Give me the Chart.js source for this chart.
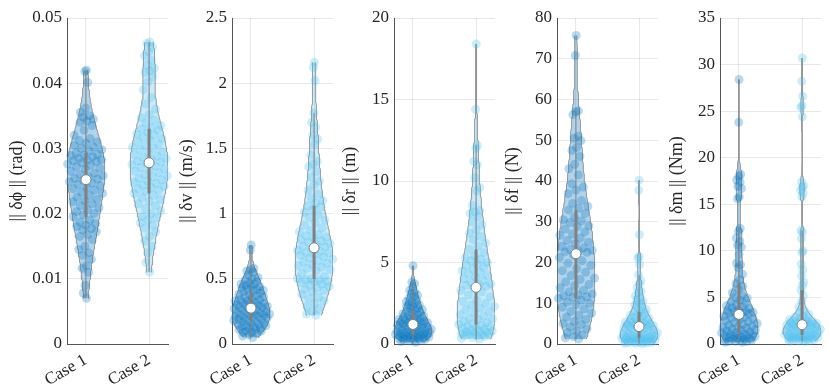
<!DOCTYPE html>
<html>
<head>
<meta charset="utf-8">
<script src="https://cdn.jsdelivr.net/npm/chart.js@4.4.1/dist/chart.umd.min.js"></script>
<style>
  body { margin: 0; background: #fff; }
  #wrap { position: relative; width: 830px; height: 387px; overflow: hidden; background: #fff; }
  #wrap canvas { position: absolute; top: 0; }
</style>
</head>
<body>
<div id="wrap"></div>
<script>
const caseLabels = ['Case 1', 'Case 2'];
const axisTitles = ['|| δϕ || (rad)', '|| δv || (m/s)', '|| δr || (m)', '|| δf || (N)', '|| δm || (Nm)'];
const yMax = [0.05, 2.5, 20, 80, 35];
const yStep = [0.01, 0.5, 5, 10, 5];

// attitude error (rad)
const phiCase1 = [0.0420,0.0418,0.0401,0.0362,0.0355,0.0350,0.0348,0.0345,0.0342,0.0340,0.0335,0.0328,0.0320,0.0315,0.0312,0.0310,0.0308,0.0305,0.0302,0.0300,0.0298,0.0296,
  0.0293,0.0291,0.0290,0.0289,0.0287,0.0285,0.0283,0.0282,0.0281,0.0280,0.0278,0.0276,0.0274,0.0272,0.0270,0.0268,0.0265,0.0262,0.0260,0.0258,0.0256,0.0254,0.0253,
  0.0251,0.0249,0.0247,0.0245,0.0243,0.0240,0.0238,0.0236,0.0233,0.0231,0.0228,0.0225,0.0222,0.0220,0.0218,0.0215,0.0212,0.0209,0.0206,0.0203,0.0200,0.0198,
  0.0195,0.0190,0.0187,0.0185,0.0182,0.0180,0.0177,0.0175,0.0172,0.0168,0.0165,0.0160,0.0150,0.0145,0.0140,0.0136,0.0130,0.0120,0.0116,0.0110,0.0090,0.0078,0.0070];
const phiCase2 = [0.0463,0.0461,0.0455,0.0448,0.0442,0.0435,0.0428,0.0423,0.0419,0.0416,0.0410,0.0402,0.0390,0.0378,0.0368,0.0360,0.0352,0.0347,0.0343,0.0339,0.0335,0.0332,
  0.0330,0.0328,0.0325,0.0322,0.0320,0.0317,0.0315,0.0312,0.0310,0.0307,0.0304,0.0302,0.0300,0.0298,0.0295,0.0292,0.0290,0.0288,0.0286,0.0284,0.0282,0.0280,0.0279,
  0.0277,0.0275,0.0273,0.0271,0.0269,0.0267,0.0265,0.0263,0.0260,0.0258,0.0256,0.0254,0.0252,0.0250,0.0248,0.0246,0.0244,0.0242,0.0240,0.0238,0.0236,0.0234,
  0.0231,0.0228,0.0225,0.0222,0.0219,0.0215,0.0212,0.0208,0.0204,0.0200,0.0196,0.0193,0.0190,0.0186,0.0182,0.0178,0.0172,0.0165,0.0158,0.0150,0.0140,0.0125,0.0110];

// velocity error (m/s)
const velCase1 = [0.76,0.72,0.58,0.57,0.56,0.55,0.53,0.51,0.50,0.49,0.48,0.47,0.46,0.46,0.45,0.44,0.44,0.43,0.42,0.42,0.41,0.41,
  0.40,0.39,0.38,0.38,0.37,0.36,0.36,0.35,0.34,0.34,0.33,0.33,0.32,0.32,0.31,0.31,0.30,0.30,0.30,0.29,0.29,0.28,0.28,
  0.27,0.27,0.26,0.26,0.25,0.25,0.24,0.24,0.24,0.23,0.23,0.22,0.22,0.22,0.21,0.21,0.20,0.20,0.20,0.19,0.19,0.18,
  0.18,0.17,0.17,0.16,0.16,0.15,0.15,0.14,0.14,0.13,0.13,0.12,0.12,0.11,0.11,0.10,0.10,0.09,0.09,0.08,0.07,0.06,0.05];
const velCase2 = [2.16,2.12,2.02,1.77,1.70,1.66,1.60,1.57,1.53,1.45,1.40,1.38,1.36,1.32,1.28,1.25,1.22,1.18,1.15,1.12,1.10,1.08,
  1.06,1.05,1.03,1.01,0.99,0.97,0.95,0.93,0.91,0.89,0.87,0.86,0.84,0.83,0.82,0.81,0.80,0.79,0.78,0.77,0.76,0.75,0.745,
  0.73,0.72,0.71,0.70,0.70,0.69,0.68,0.67,0.66,0.65,0.64,0.63,0.62,0.61,0.60,0.59,0.58,0.57,0.56,0.54,0.52,0.50,
  0.50,0.49,0.49,0.48,0.48,0.47,0.46,0.45,0.44,0.43,0.42,0.41,0.40,0.38,0.36,0.35,0.33,0.31,0.29,0.27,0.25,0.23,0.22];

// position error (m)
const posCase1 = [4.8,3.8,3.7,3.5,3.3,3.2,3.1,3.0,2.9,2.8,2.7,2.6,2.6,2.5,2.4,2.4,2.3,2.3,2.2,2.2,2.1,2.05,
  2.0,1.95,1.9,1.85,1.8,1.75,1.7,1.65,1.6,1.6,1.55,1.5,1.5,1.45,1.4,1.4,1.35,1.35,1.3,1.3,1.25,1.25,1.22,
  1.18,1.15,1.12,1.1,1.05,1.0,1.0,0.95,0.92,0.9,0.88,0.85,0.82,0.8,0.78,0.75,0.72,0.7,0.68,0.65,0.63,0.6,
  0.58,0.56,0.55,0.53,0.5,0.5,0.48,0.45,0.43,0.42,0.4,0.38,0.36,0.35,0.33,0.3,0.28,0.26,0.25,0.22,0.2,0.15,0.1];
const posCase2 = [18.4,14.4,12.2,12.0,11.2,11.0,10.2,9.6,9.4,8.5,8.2,8.1,8.0,7.8,7.5,7.3,7.0,6.8,6.6,6.4,6.2,6.0,
  5.8,5.6,5.4,5.3,5.2,5.1,5.0,4.9,4.8,4.7,4.6,4.5,4.4,4.3,4.2,4.1,4.0,3.9,3.8,3.7,3.65,3.6,3.55,
  3.4,3.3,3.2,3.0,2.9,2.7,2.6,2.5,2.4,2.3,2.2,2.1,2.0,1.9,1.8,1.7,1.6,1.55,1.5,1.4,1.3,1.25,
  1.2,1.15,1.1,1.05,1.0,0.95,0.9,0.85,0.8,0.8,0.75,0.7,0.7,0.65,0.6,0.6,0.55,0.5,0.5,0.45,0.4,0.35,0.3];

// force error (N)
const forceCase1 = [75.7,70.8,57.2,57.0,56.3,51.0,50.5,49.9,48.2,47.5,46.0,44.1,43.0,41.5,39.3,38.5,37.8,36.9,35.2,34.5,33.8,33.3,
  32.9,32.0,31.2,30.5,30.2,29.8,29.0,28.8,28.2,27.5,27.0,26.7,26.0,25.4,25.0,24.6,24.0,23.6,23.2,23.0,22.8,22.6,22.5,
  21.8,21.2,20.4,19.8,19.3,18.5,18.0,17.6,16.8,16.2,15.8,15.2,14.6,14.3,13.8,13.2,12.8,12.3,12.0,11.8,11.6,11.5,
  11.2,10.8,10.3,10.0,9.7,9.0,8.6,8.0,7.6,7.0,6.6,6.0,5.5,5.0,4.8,4.2,3.7,3.2,2.8,2.2,1.8,1.5,1.2];
const forceCase2 = [40.2,37.7,26.8,21.5,21.0,19.5,17.0,15.5,14.8,13.8,13.0,12.5,11.8,11.3,10.8,10.5,10.0,9.6,9.2,8.8,8.4,8.1,
  7.9,7.6,7.3,7.0,6.8,6.5,6.3,6.1,5.9,5.7,5.6,5.4,5.3,5.2,5.0,4.9,4.8,4.7,4.6,4.5,4.45,4.4,4.35,
  4.2,4.0,3.9,3.7,3.5,3.4,3.2,3.0,2.9,2.8,2.6,2.5,2.4,2.3,2.2,2.1,2.0,1.9,1.8,1.7,1.6,1.5,
  1.45,1.4,1.3,1.25,1.2,1.1,1.0,0.95,0.9,0.85,0.8,0.75,0.7,0.6,0.55,0.5,0.45,0.4,0.35,0.3,0.25,0.2,0.1];

// moment error (Nm)
const momentCase1 = [28.4,23.8,18.2,18.0,17.6,17.4,16.9,16.7,15.8,15.6,12.4,12.1,11.4,11.0,10.6,10.4,9.6,8.7,8.5,8.2,7.5,6.9,
  6.5,6.2,5.9,5.5,5.2,5.0,4.9,4.7,4.5,4.4,4.2,4.1,4.0,3.9,3.8,3.7,3.6,3.5,3.5,3.4,3.3,3.3,3.25,
  3.1,3.0,2.9,2.8,2.7,2.6,2.5,2.4,2.3,2.2,2.1,2.0,1.9,1.8,1.8,1.7,1.6,1.5,1.5,1.4,1.3,1.2,
  1.2,1.1,1.1,1.0,1.0,0.9,0.9,0.8,0.8,0.7,0.7,0.6,0.6,0.5,0.5,0.5,0.4,0.4,0.3,0.3,0.3,0.2,0.2];
const momentCase2 = [30.7,28.2,26.6,25.6,25.4,24.4,17.4,17.0,16.8,16.5,16.2,15.8,12.2,12.0,11.3,10.0,9.8,8.6,8.0,7.3,6.6,6.3,
  5.8,5.2,4.6,4.0,3.6,3.4,3.2,3.0,2.9,2.8,2.7,2.6,2.5,2.5,2.4,2.4,2.3,2.3,2.2,2.2,2.2,2.15,2.1,
  2.05,2.0,2.0,1.9,1.9,1.8,1.8,1.7,1.7,1.6,1.6,1.5,1.5,1.4,1.4,1.3,1.3,1.2,1.2,1.1,1.1,1.0,
  1.0,0.95,0.9,0.9,0.85,0.8,0.8,0.75,0.7,0.7,0.65,0.6,0.6,0.55,0.5,0.5,0.45,0.4,0.4,0.35,0.35,0.3,0.3];

const panelData = [
  [phiCase1, phiCase2],
  [velCase1, velCase2],
  [posCase1, posCase2],
  [forceCase1, forceCase2],
  [momentCase1, momentCase2]
];

// layout of the five panels (px)
const canvasLeft = [0, 174, 337, 500, 664];
const axisLeft = [67, 232, 394, 557, 720];
const titlePad = [6, 2, 2, 2, 2];
const plotWidth = 103;
const rightPad = 4;

const caseRgb = ['0,114,189', '77,190,238'];
const grey = '#808080';
const ink = '#262626';
const serif = "'Liberation Serif', 'DejaVu Serif', serif";

function quantile(sorted, p) {
  // MATLAB style: sample i at (i-0.5)/n
  const n = sorted.length;
  const pos = p * n - 0.5;
  if (pos <= 0) return sorted[0];
  if (pos >= n - 1) return sorted[n - 1];
  const lo = Math.floor(pos);
  return sorted[lo] + (pos - lo) * (sorted[lo + 1] - sorted[lo]);
}

// kernel density like ksdensity with default bandwidth, cut at data range
function violinProfile(values) {
  const s = values.slice().sort((a, b) => a - b);
  const n = s.length;
  const med = quantile(s, 0.5);
  const dev = s.map(v => Math.abs(v - med)).sort((a, b) => a - b);
  const sig = quantile(dev, 0.5) / 0.6745;
  const bw = sig * Math.pow(4 / (3 * n), 0.2);
  const lo = s[0], hi = s[n - 1];
  const steps = 120;
  const ys = [], ds = [];
  for (let i = 0; i <= steps; i++) {
    const y = lo + (hi - lo) * i / steps;
    let d = 0;
    for (const v of s) { const u = (y - v) / bw; d += Math.exp(-0.5 * u * u); }
    ys.push(y); ds.push(d);
  }
  const dMax = Math.max(...ds);
  const half = ds.map(d => 0.3 * d / dMax);
  const q1 = quantile(s, 0.25), q3 = quantile(s, 0.75);
  const iqr = q3 - q1;
  let lw = q1 - 1.5 * iqr; lw = Math.max(lw, Math.min(...s.filter(v => v > lw)));
  let hw = q3 + 1.5 * iqr; hw = Math.min(hw, Math.max(...s.filter(v => v < hw)));
  return { ys, half, lo, hi, med, q1, q3, lw, hw };
}

function halfAt(prof, y) {
  const { ys, half } = prof;
  if (y <= ys[0]) return half[0];
  for (let i = 1; i < ys.length; i++) {
    if (y <= ys[i]) {
      const t = (y - ys[i - 1]) / (ys[i] - ys[i - 1]);
      return half[i - 1] + t * (half[i] - half[i - 1]);
    }
  }
  return half[half.length - 1];
}

function tickText(v) {
  return String(+v.toFixed(4));
}

const wrap = document.getElementById('wrap');

panelData.forEach((cases, p) => {
  const yw = axisLeft[p] - canvasLeft[p];
  const cv = document.createElement('canvas');
  cv.width = yw + plotWidth + rightPad;
  cv.height = 387;
  cv.style.left = canvasLeft[p] + 'px';
  cv.style.width = cv.width + 'px';
  cv.style.height = '387px';
  wrap.appendChild(cv);

  const datasets = [];
  cases.forEach((vals, k) => {
    const pos = k + 1;
    const prof = violinProfile(vals);
    const fillCol = 'rgba(' + caseRgb[k] + ',0.3)';
    // violin halves, filled towards the centre line
    [1, -1].forEach(side => {
      datasets.push({
        type: 'line',
        indexAxis: 'y',
        data: prof.ys.map((y, i) => ({ x: pos + side * prof.half[i], y })),
        borderColor: grey,
        borderWidth: 0.8,
        backgroundColor: fillCol,
        fill: { value: pos },
        pointRadius: 0,
        tension: 0,
        order: 10
      });
    });
    // jittered samples inside the violin
    datasets.push({
      type: 'scatter',
      data: vals.map((v, i) => {
        const j = 2 * (((i + 1) * 0.6180339887) % 1) - 1;
        return { x: pos + j * halfAt(prof, v), y: v };
      }),
      backgroundColor: 'rgba(' + caseRgb[k] + ',0.28)',
      borderWidth: 0,
      pointRadius: 4.5,
      clip: false,
      order: 5
    });
    // whisker
    datasets.push({
      type: 'line',
      data: [{ x: pos, y: prof.lw }, { x: pos, y: prof.hw }],
      borderColor: grey, borderWidth: 1, pointRadius: 0, fill: false, order: 3
    });
    // box
    datasets.push({
      type: 'line',
      data: [{ x: pos, y: prof.q1 }, { x: pos, y: prof.q3 }],
      borderColor: grey, borderWidth: 3, pointRadius: 0, fill: false, order: 2
    });
    // median
    datasets.push({
      type: 'scatter',
      data: [{ x: pos, y: prof.med }],
      backgroundColor: '#ffffff', borderColor: grey, borderWidth: 1, pointRadius: 5,
      clip: false, order: 1
    });
  });

  new Chart(cv, {
    type: 'scatter',
    data: { datasets },
    options: {
      responsive: false,
      animation: false,
      events: [],
      layout: { padding: { top: 18, right: rightPad, left: 0, bottom: 0 } },
      plugins: { legend: { display: false }, tooltip: { enabled: false } },
      scales: {
        x: {
          type: 'linear', min: 0.7, max: 2.3,
          afterBuildTicks: s => { s.ticks = [{ value: 1 }, { value: 2 }]; },
          afterFit: s => { s.height = 43; },
          grid: { color: 'rgba(0,0,0,0.09)', drawTicks: false },
          border: { color: '#555', width: 1 },
          ticks: {
            autoSkip: false, minRotation: 30, maxRotation: 30, padding: 6,
            color: ink, font: { family: serif, size: 17 },
            callback: v => caseLabels[Math.round(v) - 1]
          }
        },
        y: {
          type: 'linear', min: 0, max: yMax[p],
          afterFit: s => { s.width = yw; },
          grid: { color: 'rgba(0,0,0,0.09)', drawTicks: false },
          border: { color: '#555', width: 1 },
          ticks: {
            stepSize: yStep[p], padding: 5, color: ink,
            font: { family: serif, size: 17 },
            callback: v => tickText(v)
          },
          title: {
            display: true, text: axisTitles[p], color: ink,
            font: { family: serif, size: 18 }, padding: { top: titlePad[p], bottom: 0 }
          }
        }
      }
    }
  });
});
</script>
</body>
</html>
